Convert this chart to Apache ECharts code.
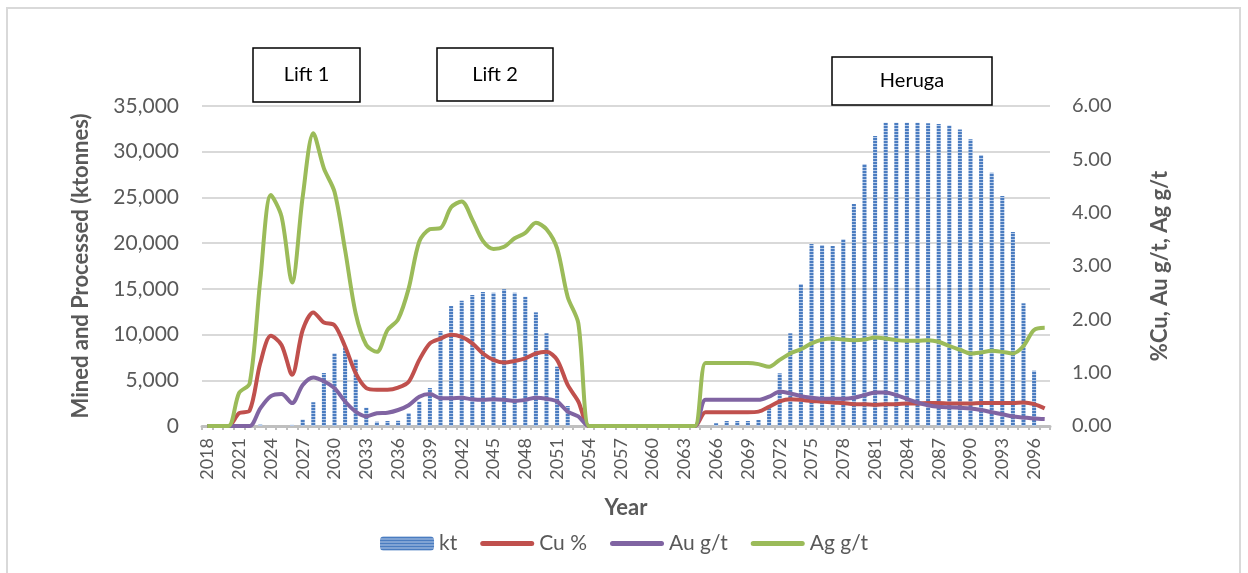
<!DOCTYPE html>
<html>
<head>
<meta charset="utf-8">
<title>Mined and Processed</title>
<script src="https://cdn.jsdelivr.net/npm/echarts@6.0.0/dist/echarts.min.js"></script>
<style>
	html, body { margin: 0; padding: 0; background: #fff; }
	#char1 { width: 1248px; height: 573px; }
</style>
</head>
<body>
<div id="char1"></div>
<script>
	// years on the category axis
	var years = [
		'2018','2019','2020','2021','2022','2023','2024','2025','2026','2027',
		'2028','2029','2030','2031','2032','2033','2034','2035','2036','2037',
		'2038','2039','2040','2041','2042','2043','2044','2045','2046','2047',
		'2048','2049','2050','2051','2052','2053','2054','2055','2056','2057',
		'2058','2059','2060','2061','2062','2063','2064','2065','2066','2067',
		'2068','2069','2070','2071','2072','2073','2074','2075','2076','2077',
		'2078','2079','2080','2081','2082','2083','2084','2085','2086','2087',
		'2088','2089','2090','2091','2092','2093','2094','2095','2096','2097'
	];

	// mined and processed, ktonnes
	var ktValues = [
		0, 0, 0, 0, 0, 150, 0, 0, 120, 700,
		2600, 5800, 7950, 8700, 7300, 2000, 470, 550, 570, 1420,
		2660, 4150, 10380, 13120, 13700, 14330, 14650, 14580, 14950, 14580,
		14140, 12430, 10140, 6490, 2190, 0, 0, 0, 0, 0,
		0, 0, 0, 0, 0, 0, 0, 0, 300, 550,
		550, 550, 660, 1940, 5760, 10140, 15530, 19900, 19800, 19690,
		20420, 24280, 28660, 31720, 33180, 33180, 33180, 33180, 33100, 33030,
		32880, 32440, 31350, 29640, 27710, 25160, 21220, 13420, 6050, 0
	];

	// Cu %
	var cuValues = [
		0, 0, 0, 0.24, 0.29, 1.18, 1.69, 1.52, 0.96, 1.80,
		2.13, 1.94, 1.89, 1.49, 0.99, 0.71, 0.68, 0.68, 0.72, 0.83,
		1.24, 1.55, 1.64, 1.71, 1.67, 1.55, 1.36, 1.24, 1.19, 1.22,
		1.27, 1.36, 1.39, 1.24, 0.77, 0.46, 0, 0, 0, 0,
		0, 0, 0, 0, 0, 0, 0, 0.26, 0.26, 0.26,
		0.26, 0.26, 0.27, 0.36, 0.46, 0.50, 0.49, 0.47, 0.46, 0.44,
		0.43, 0.41, 0.41, 0.40, 0.41, 0.41, 0.42, 0.42, 0.43, 0.43,
		0.42, 0.42, 0.42, 0.43, 0.43, 0.43, 0.43, 0.44, 0.41, 0.33
	];

	// Au g/t
	var auValues = [
		0, 0, 0, 0, 0, 0.33, 0.56, 0.60, 0.43, 0.77,
		0.91, 0.84, 0.71, 0.46, 0.27, 0.18, 0.24, 0.25, 0.30, 0.39,
		0.55, 0.60, 0.52, 0.52, 0.53, 0.50, 0.49, 0.50, 0.49, 0.47,
		0.49, 0.53, 0.51, 0.46, 0.27, 0.18, 0, 0, 0, 0,
		0, 0, 0, 0, 0, 0, 0, 0.49, 0.49, 0.49,
		0.49, 0.49, 0.49, 0.55, 0.64, 0.61, 0.56, 0.53, 0.51, 0.51,
		0.51, 0.53, 0.58, 0.63, 0.63, 0.58, 0.51, 0.44, 0.39, 0.36,
		0.35, 0.34, 0.33, 0.30, 0.26, 0.22, 0.18, 0.16, 0.14, 0.13
	];

	// Ag g/t
	var agValues = [
		0, 0, 0, 0.62, 0.80, 2.74, 4.33, 3.93, 2.69, 4.30,
		5.49, 4.83, 4.39, 3.30, 2.11, 1.52, 1.39, 1.80, 2.00, 2.58,
		3.46, 3.69, 3.71, 4.10, 4.21, 3.87, 3.47, 3.32, 3.36, 3.52,
		3.62, 3.81, 3.69, 3.33, 2.42, 1.93, 0, 0, 0, 0,
		0, 0, 0, 0, 0, 0, 0, 1.18, 1.18, 1.18,
		1.18, 1.18, 1.16, 1.11, 1.24, 1.36, 1.44, 1.55, 1.62, 1.64,
		1.62, 1.61, 1.62, 1.66, 1.64, 1.61, 1.60, 1.60, 1.61, 1.58,
		1.50, 1.43, 1.36, 1.38, 1.41, 1.39, 1.36, 1.50, 1.80, 1.84
	];

	var leftTicks = { min: 0, max: 35000, interval: 5000 };
	var rightTicks = { min: 0, max: 6, interval: 1 };

	var font = 'Lato, "Noto Sans", sans-serif';
	var grey = '#595959';
	// thick line with round ends, used as legend icon of the line series
	var lineIcon = 'path://M2.5,0h49a2.5,2.5 0 0 1 0,5h-49a2.5,2.5 0 0 1 0,-5z';

	// striped fill for the kt bars
	function stripePattern() {
		var c = document.createElement('canvas');
		c.width = 4;
		c.height = 3;
		var ctx = c.getContext('2d');
		ctx.fillStyle = '#b7cbe9';
		ctx.fillRect(0, 0, 4, 3);
		ctx.fillStyle = '#4a7cc0';
		ctx.fillRect(0, 0, 4, 2);
		return { image: c, repeat: 'repeat' };
	}

	function labelBox(x, y, w, h, text) {
		return [
			{
				type: 'rect',
				shape: { x: x, y: y, width: w, height: h },
				style: { fill: '#fff', stroke: '#000', lineWidth: 1.5 },
				z: 10
			},
			{
				type: 'text',
				x: x + w / 2,
				y: y + h / 2,
				style: {
					text: text, fill: '#000', font: '20px ' + font,
					align: 'center', verticalAlign: 'middle'
				},
				z: 11
			}
		];
	}

	var dom = document.getElementById("char1");
	var myChart = echarts.init(dom, null, { renderer: 'canvas' });

	var option = null;
	option = {
		animation: false,
		textStyle: { fontFamily: font },
		grid: {
			left: 202,
			right: 198,
			top: 106,
			bottom: 147
		},
		legend: {
			top: 528,
			left: 'center',
			itemWidth: 54,
			itemHeight: 14,
			itemGap: 23,
			textStyle: { fontSize: 21, color: grey, fontFamily: font },
			data: [
				{ name: 'kt' },
				{ name: 'Cu %', icon: lineIcon },
				{ name: 'Au g/t', icon: lineIcon },
				{ name: 'Ag g/t', icon: lineIcon }
			]
		},
		xAxis: {
			type: 'category',
			data: years,
			boundaryGap: true,
			name: 'Year',
			nameLocation: 'middle',
			nameGap: 71,
			nameTextStyle: { fontSize: 22, fontWeight: 'bold', color: grey, fontFamily: font },
			axisLine: { lineStyle: { color: '#bfbfbf', width: 3 } },
			axisTick: { show: true, interval: 0, length: 4, lineStyle: { color: '#bfbfbf', width: 2 } },
			axisLabel: { interval: 2, rotate: 90, margin: 12, fontSize: 18, color: grey, fontFamily: font }
		},
		yAxis: [
			{
				type: 'value',
				min: leftTicks.min,
				max: leftTicks.max,
				interval: leftTicks.interval,
				name: 'Mined and Processed (ktonnes)',
				nameLocation: 'middle',
				nameGap: 110,
				nameTextStyle: { fontSize: 22, fontWeight: 'bold', color: grey, fontFamily: font },
				axisLine: { show: false },
				axisTick: { show: false },
				splitLine: { lineStyle: { color: '#d9d9d9', width: 2 } },
				axisLabel: {
					margin: 23, fontSize: 21, color: grey, fontFamily: font,
					formatter: function (v) { return v.toLocaleString('en-US'); }
				}
			},
			{
				type: 'value',
				min: rightTicks.min,
				max: rightTicks.max,
				interval: rightTicks.interval,
				name: '%Cu, Au g/t, Ag g/t',
				nameLocation: 'middle',
				nameGap: 99,
				nameTextStyle: { fontSize: 22, fontWeight: 'bold', color: grey, fontFamily: font },
				axisLine: { show: false },
				axisTick: { show: false },
				splitLine: { show: false },
				axisLabel: {
					margin: 22, fontSize: 20, color: grey, fontFamily: font,
					formatter: function (v) { return v.toFixed(2); }
				}
			}
		],
		series: [
			{
				name: 'kt',
				type: 'bar',
				yAxisIndex: 0,
				barWidth: 4,
				data: ktValues,
				itemStyle: { color: stripePattern() }
			},
			{
				name: 'Cu %',
				type: 'line',
				yAxisIndex: 1,
				symbol: 'none',
				smooth: 0.3,
				data: cuValues,
				itemStyle: { color: '#c0504d' },
				lineStyle: { color: '#c0504d', width: 4 }
			},
			{
				name: 'Au g/t',
				type: 'line',
				yAxisIndex: 1,
				symbol: 'none',
				smooth: 0.3,
				data: auValues,
				itemStyle: { color: '#8064a2' },
				lineStyle: { color: '#8064a2', width: 4 }
			},
			{
				name: 'Ag g/t',
				type: 'line',
				yAxisIndex: 1,
				symbol: 'none',
				smooth: 0.3,
				data: agValues,
				itemStyle: { color: '#9bbb59' },
				lineStyle: { color: '#9bbb59', width: 4 }
			}
		],
		graphic: [
			{
				type: 'rect',
				shape: { x: 7, y: 8, width: 1233, height: 620 },
				style: { fill: 'none', stroke: '#d9d9d9', lineWidth: 2 },
				silent: true
			}
		].concat(labelBox(253, 48, 107, 54, 'Lift 1'))
		 .concat(labelBox(437, 48, 116, 53, 'Lift 2'))
		 .concat(labelBox(832, 57, 160, 48, 'Heruga'))
	};

	if (option && typeof option === "object") {
		myChart.setOption(option, true);
	}
</script>
</body>
</html>
